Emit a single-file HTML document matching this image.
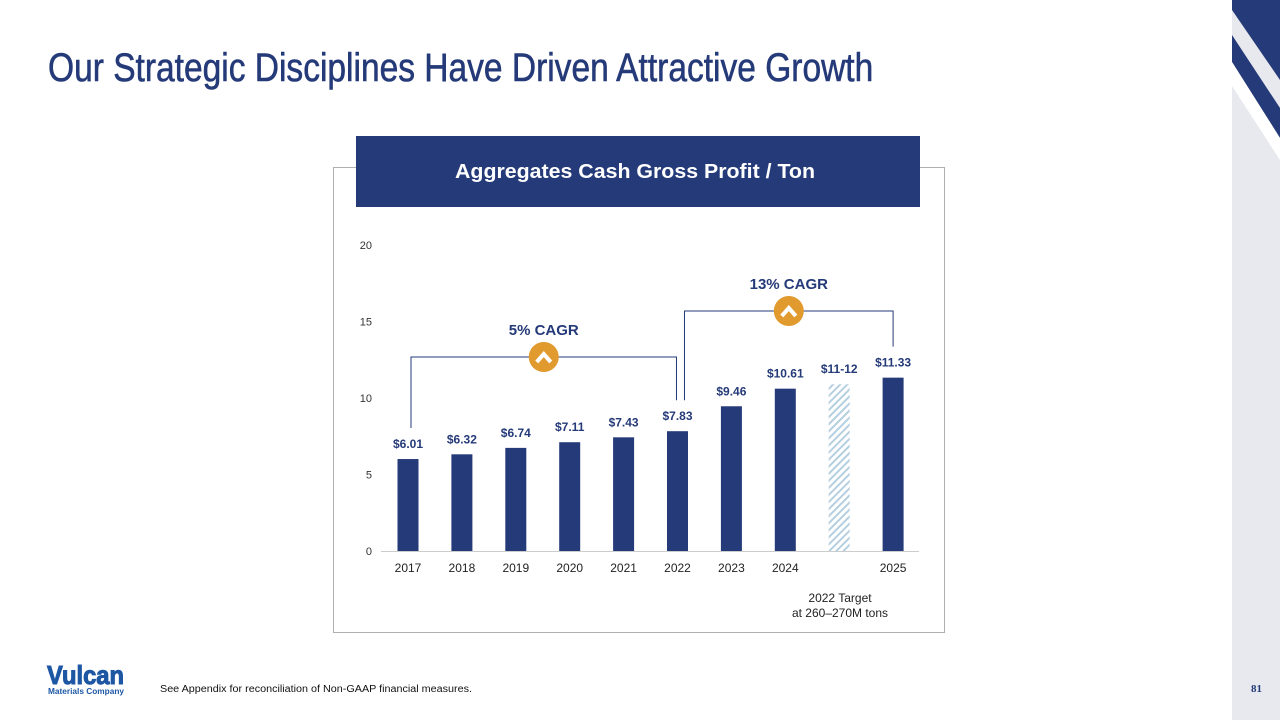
<!DOCTYPE html>
<html><head><meta charset="utf-8"><style>
html,body{margin:0;padding:0;}
body{width:1280px;height:720px;position:relative;overflow:hidden;background:#fff;font-family:"Liberation Sans",sans-serif;}
.title{position:absolute;left:48px;top:46px;font-size:40px;color:#253a78;transform:scaleX(0.838);transform-origin:left top;white-space:nowrap;-webkit-text-stroke:0.6px #253a78;}
</style></head><body>
<div class="title">Our Strategic Disciplines Have Driven Attractive Growth</div>
<svg width="1280" height="720" style="position:absolute;left:0;top:0">
  <defs>
    <pattern id="hatch" width="5" height="5" patternUnits="userSpaceOnUse" patternTransform="rotate(45)">
      <rect width="5" height="5" fill="#fff"/>
      <rect width="2" height="5" fill="#b5cfe0"/>
    </pattern>
  </defs>
  <g>
    <rect x="1232" y="0" width="48" height="720" fill="#e8e9ee"/>
    <polygon points="1232,0 1280,0 1280,80 1232,10" fill="#253a78"/>
    <polygon points="1232,35 1280,108 1280,138 1232,62" fill="#253a78"/>
    <polygon points="1232,62 1280,138 1280,160 1232,86" fill="#fff"/>
  </g>
  <rect x="333.5" y="167.5" width="611" height="465" fill="none" stroke="#b0b0b0"/>
  <rect x="356" y="136" width="564" height="71" fill="#253a78"/>
  <text x="635" y="178" text-anchor="middle" fill="#fff" font-size="20" font-weight="bold" textLength="360" lengthAdjust="spacingAndGlyphs">Aggregates Cash Gross Profit / Ton</text>
  <g id="chart"></g>
  <text x="840" y="602" text-anchor="middle" font-size="12" fill="#222">2022 Target</text>
  <text x="840" y="617" text-anchor="middle" font-size="12" fill="#222">at 260–270M tons</text>
  <g>
    <text x="47" y="684" font-size="26" font-weight="bold" fill="#1d57a4" stroke="#1d57a4" stroke-width="1" textLength="77" lengthAdjust="spacingAndGlyphs">Vulcan</text>
    <text x="48" y="694" font-size="8" font-weight="bold" fill="#1d57a4" textLength="76" lengthAdjust="spacingAndGlyphs">Materials Company</text>
  </g>
  <text x="160" y="692" font-size="10" fill="#111" textLength="312" lengthAdjust="spacingAndGlyphs">See Appendix for reconciliation of Non-GAAP financial measures.</text>
  <text x="1262" y="692" text-anchor="end" font-size="11" font-weight="bold" fill="#253a78" font-family="Liberation Serif, serif">81</text>
</svg>
<script>
const categories=["2017","2018","2019","2020","2021","2022","2023","2024","","2025"];
const values=[6.01,6.32,6.74,7.11,7.43,7.83,9.46,10.61,10.9,11.33];
const valueLabels=["$6.01","$6.32","$6.74","$7.11","$7.43","$7.83","$9.46","$10.61","$11-12","$11.33"];
const hatched=[false,false,false,false,false,false,false,false,true,false];
const yTicks=[0,5,10,15,20];
const cagrLabels=["5% CAGR","13% CAGR"];

const NS="http://www.w3.org/2000/svg";
const g=document.getElementById('chart');
const y0=551,pxPerUnit=15.3,x0=408,step=53.9,bw=21;
const ys=v=>y0-v*pxPerUnit;
const xs=i=>x0+i*step;
function mk(tag,attrs,text){const e=document.createElementNS(NS,tag);for(const k in attrs)e.setAttribute(k,attrs[k]);if(text!==undefined)e.textContent=text;g.appendChild(e);return e;}

yTicks.forEach(t=>{
  const e=mk('text',{x:372,y:ys(t)+4,'text-anchor':'end','font-size':11,fill:'#333'},t);
  
  
});
const ax=mk('line',{x1:381,x2:919,y1:y0+0.5,y2:y0+0.5,stroke:'#ccc'});



values.forEach((v,i)=>{
  const r=mk('rect',{x:xs(i)-bw/2,y:ys(v),width:bw,height:v*pxPerUnit,fill:hatched[i]?'url(#hatch)':'#253a78'});
  
  
  const t=mk('text',{x:xs(i),y:ys(v)-11,'text-anchor':'middle','font-size':12,'font-weight':'bold',fill:'#253a78'},valueLabels[i]);
  
  
  if(categories[i]){
    const c=mk('text',{x:xs(i),y:572,'text-anchor':'middle','font-size':12,fill:'#222'},categories[i]);
    
    
  }
});

function bracket(i1,i2,v1,v2,top,xa,xb,label,name){
  const p=mk('path',{d:`M${xa} ${ys(v1)-11-20} V${top} H${xb} V${ys(v2)-11-20}`,fill:'none',stroke:'#253a78','stroke-width':1});
  
  
  const cx=(xa+xb)/2;
  const c=mk('circle',{cx:cx,cy:top,r:15,fill:'#e19a2e'});
  
  
  const ch=mk('path',{d:`M${cx-7} ${top+5} L${cx} ${top-3} L${cx+7} ${top+5}`,fill:'none',stroke:'#fff','stroke-width':4});
  
  
  const t=mk('text',{x:cx,y:top-22,'text-anchor':'middle','font-size':15,'font-weight':'bold',fill:'#253a78'},label);
  
  
}
bracket(0,5,values[0],values[5],357,xs(0)+3,xs(5)-1,cagrLabels[0],'cagr-5');
bracket(5,9,values[5],values[9],311,xs(5)+7,xs(9),cagrLabels[1],'cagr-13');
</script>
</body></html>
